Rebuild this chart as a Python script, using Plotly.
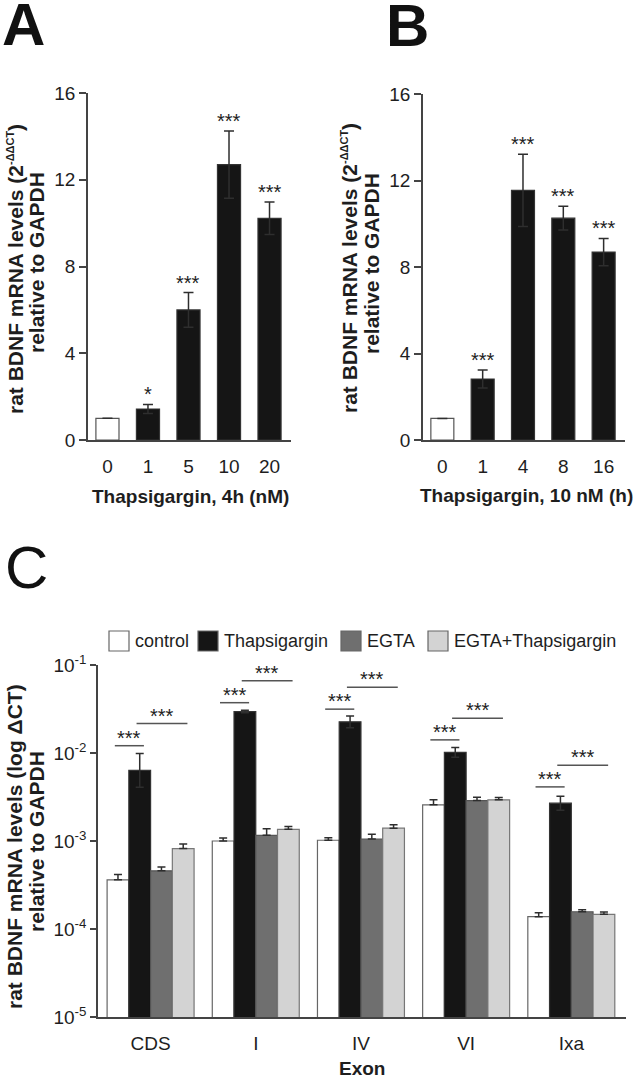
import numpy as np
import plotly.graph_objects as go

# ---------------- data ----------------
# Panel A: Thapsigargin dose, 4 h
a_doses = ['0', '1', '5', '10', '20']
a_means = [1.0, 1.43, 6.0, 12.7, 10.22]
a_sem = [0.0, 0.21, 0.8, 1.55, 0.75]
a_sig = ['', '*', '***', '***', '***']

# Panel B: Thapsigargin 10 nM, time course
b_hours = ['0', '1', '4', '8', '16']
b_means = [1.0, 2.82, 11.54, 10.26, 8.69]
b_sem = [0.0, 0.42, 1.67, 0.55, 0.63]
b_sig = ['', '***', '***', '***', '***']

# Panel C: exon-specific transcripts (log scale)
exons = ['CDS', 'I', 'IV', 'VI', 'Ixa']
c_groups = ['control', 'Thapsigargin', 'EGTA', 'EGTA+Thapsigargin']
c_control = [3.62e-4, 1.00e-3, 1.02e-3, 2.58e-3, 1.38e-4]
c_control_err = [0.55e-4, 0.08e-3, 0.07e-3, 0.36e-3, 0.15e-4]
c_thaps = [6.35e-3, 2.96e-2, 2.26e-2, 1.016e-2, 2.69e-3]
c_thaps_err = [3.55e-3, 0.10e-2, 0.38e-2, 0.14e-2, 0.54e-3]
c_egta = [4.58e-4, 1.16e-3, 1.054e-3, 2.88e-3, 1.57e-4]
c_egta_err = [0.50e-4, 0.22e-3, 0.14e-3, 0.27e-3, 0.09e-4]
c_egta_thaps = [8.2e-4, 1.356e-3, 1.40e-3, 2.94e-3, 1.47e-4]
c_egta_thaps_err = [1.05e-4, 0.11e-3, 0.13e-3, 0.18e-3, 0.09e-4]
# significance bracket heights (control vs Thaps, Thaps vs EGTA+Thaps)
c_sig_ctrl_thaps = [1.21e-2, 3.73e-2, 3.15e-2, 1.41e-2, 4.12e-3]
c_sig_thaps_egtathaps = [2.16e-2, 6.62e-2, 5.58e-2, 2.49e-2, 7.24e-3]
c_sig_label = '***'

# ---------------- style ----------------
W, H = 633, 1082
FONT = 'Liberation Sans, Arial, sans-serif'
TXT = '#1e1e1e'
AXC = '#444444'
BLACK = '#151515'
GROUP_COLORS = ['#ffffff', BLACK, '#6f6f6f', '#d3d3d3']
GROUP_LINES = ['#666666', '#333333', '#555555', '#777777']


def px(x):
    return x / W


def py(y):
    return 1 - y / H


fig = go.Figure()

# ---- Panel A ----
fig.add_trace(go.Bar(
    x=a_doses, y=a_means, xaxis='x', yaxis='y', width=0.57,
    marker=dict(color=['#ffffff'] + [BLACK] * (len(a_doses) - 1),
                line=dict(color=['#555555'] + ['#333333'] * (len(a_doses) - 1), width=1.2)),
    error_y=dict(type='data', array=a_sem, visible=True, color='#2e2e2e', thickness=1.5, width=5),
    showlegend=False))

# ---- Panel B ----
fig.add_trace(go.Bar(
    x=b_hours, y=b_means, xaxis='x2', yaxis='y2', width=0.57,
    marker=dict(color=['#ffffff'] + [BLACK] * (len(b_hours) - 1),
                line=dict(color=['#555555'] + ['#333333'] * (len(b_hours) - 1), width=1.2)),
    error_y=dict(type='data', array=b_sem, visible=True, color='#2e2e2e', thickness=1.5, width=5),
    showlegend=False))

# ---- Panel C ----
c_vals = [c_control, c_thaps, c_egta, c_egta_thaps]
c_errs = [c_control_err, c_thaps_err, c_egta_err, c_egta_thaps_err]
for gi, (name, vals, errs) in enumerate(zip(c_groups, c_vals, c_errs)):
    v = np.array(vals)
    e = np.array(errs)
    if gi == 1:
        minus = v - v * v / (v + e)
    else:
        minus = np.zeros_like(v)
    fig.add_trace(go.Bar(
        x=exons, y=vals, name=name, xaxis='x3', yaxis='y3',
        marker=dict(color=GROUP_COLORS[gi], line=dict(color=GROUP_LINES[gi], width=1.2)),
        error_y=dict(type='data', symmetric=False, array=errs, arrayminus=list(minus),
                     visible=True, color='#2e2e2e', thickness=1.5, width=4),
        showlegend=False))

annotations = []
shapes = []

STARFONT = dict(family=FONT, size=20, color=TXT)
# stars A/B (x as category index)
for xref, yref, means, sems, sigs in [
        ('x', 'y', a_means, a_sem, a_sig),
        ('x2', 'y2', b_means, b_sem, b_sig)]:
    for i, (m, s, g) in enumerate(zip(means, sems, sigs)):
        if g:
            annotations.append(dict(x=i, y=m + s, xref=xref, yref=yref, text=g,
                                    showarrow=False, yanchor='bottom', yshift=-3,
                                    font=STARFONT))

# brackets C
n_groups = len(c_groups)
group_w = 1 - 0.173
bar_w = group_w / n_groups
offsets = [-group_w / 2 + bar_w * (k + 0.5) for k in range(n_groups)]
for i, ex in enumerate(exons):
    for (ga, gb, h) in [(0, 1, c_sig_ctrl_thaps[i]), (1, 3, c_sig_thaps_egtathaps[i])]:
        x0 = i + offsets[ga] - 0.03
        x1 = i + offsets[gb] + 0.04
        shapes.append(dict(type='line', xref='x3', yref='y3', x0=x0, x1=x1, y0=h, y1=h,
                           line=dict(color='#555555', width=1.5)))
        annotations.append(dict(x=(x0 + x1) / 2, y=np.log10(h), xref='x3', yref='y3',
                                text=c_sig_label, showarrow=False, yanchor='bottom',
                                yshift=-5, font=STARFONT))

# manual legend for C
leg_box_x = [109, 198, 341, 428]
leg_y0, leg_y1 = 631, 651
for gi, name in enumerate(c_groups):
    shapes.append(dict(type='rect', xref='paper', yref='paper',
                       x0=px(leg_box_x[gi]), x1=px(leg_box_x[gi] + 20),
                       y0=py(leg_y1), y1=py(leg_y0),
                       fillcolor=GROUP_COLORS[gi], line=dict(color='#666666', width=1.2)))
    annotations.append(dict(x=px(leg_box_x[gi] + 24), y=py((leg_y0 + leg_y1) / 2),
                            xref='paper', yref='paper', text=name, showarrow=False,
                            xanchor='left', yanchor='middle',
                            font=dict(family=FONT, size=18, color=TXT)))

# axis titles
XT_FONT = dict(family=FONT, size=19, color=TXT)
YT_FONT = dict(family=FONT, size=21, color=TXT)
sup = '<sup><span style="font-size:11px">-ΔΔCT</span></sup>'
ytitle_ab_1 = '<b>rat BDNF mRNA levels (2' + sup + ')</b>'
ytitle_2 = '<b>relative to GAPDH</b>'
ytitle_c_1 = '<b>rat BDNF mRNA levels (log ΔCT)</b>'


def ytitle(x, y, text):
    return dict(x=px(x), y=py(y), xref='paper', yref='paper', text=text, textangle=-90,
                showarrow=False, xanchor='center', yanchor='middle', font=YT_FONT)


def xtitle(x, y, text):
    return dict(x=px(x), y=py(y), xref='paper', yref='paper', text=text,
                showarrow=False, xanchor='center', yanchor='middle', font=XT_FONT)


annotations += [
    ytitle(15, 269, ytitle_ab_1), ytitle(37, 263, ytitle_2),
    ytitle(349, 268, ytitle_ab_1), ytitle(371, 264, ytitle_2),
    ytitle(14, 847, ytitle_c_1), ytitle(36, 842, ytitle_2),
    xtitle(190, 497, '<b>Thapsigargin, 4h (nM)</b>'),
    xtitle(526, 495, '<b>Thapsigargin, 10 nM (h)</b>'),
    xtitle(362, 1068, '<b>Exon</b>'),
]

# panel letters
for letter, lx, ly, bold in [('A', 0, 25, True), ('B', 384, 26, True), ('C', 3, 567, False)]:
    annotations.append(dict(x=px(lx), y=py(ly), xref='paper', yref='paper',
                            text=('<b>%s</b>' % letter) if bold else letter,
                            showarrow=False, xanchor='left', yanchor='middle',
                            font=dict(family=FONT, size=60, color='#111111')))

TICKFONT = dict(family=FONT, size=19, color=TXT)
common_x = dict(type='category', showline=True, linecolor=AXC, linewidth=1.5, ticks='',
                showgrid=False, zeroline=False, tickfont=TICKFONT, ticklabelstandoff=8,
                automargin=False, fixedrange=True)
common_y = dict(showline=True, linecolor=AXC, linewidth=1.5, ticks='outside', ticklen=7,
                tickwidth=1.5, tickcolor=AXC, showgrid=False, zeroline=False,
                tickfont=TICKFONT, automargin=False, fixedrange=True)

c_tickvals = [1e-5, 1e-4, 1e-3, 1e-2, 1e-1]
c_ticktext = ['10<sup>-5</sup>', '10<sup>-4</sup>', '10<sup>-3</sup>', '10<sup>-2</sup>', '10<sup>-1</sup>']

fig.update_layout(
    width=W, height=H, autosize=False,
    margin=dict(l=0, r=0, t=0, b=0, pad=0),
    paper_bgcolor='white', plot_bgcolor='white',
    template='none',
    barmode='group', bargap=0.173, bargroupgap=0,
    showlegend=False,
    xaxis=dict(common_x, domain=[px(88), px(291)], range=[-0.48, 4.53], anchor='y'),
    yaxis=dict(common_y, domain=[py(440), py(93)], range=[0, 16], tickvals=[0, 4, 8, 12, 16], anchor='x'),
    xaxis2=dict(common_x, domain=[px(423), px(625)], range=[-0.48, 4.53], anchor='y2'),
    yaxis2=dict(common_y, domain=[py(440), py(94)], range=[0, 16], tickvals=[0, 4, 8, 12, 16], anchor='x2'),
    xaxis3=dict(common_x, domain=[px(98), px(626)], range=[-0.5, 4.52], anchor='y3'),
    yaxis3=dict(common_y, type='log', domain=[py(1017), py(665)], range=[-5, -1],
                tickvals=c_tickvals, ticktext=c_ticktext, ticklen=6, anchor='x3'),
    annotations=annotations,
    shapes=shapes,
)

fig.write_html('out.html', config={'displayModeBar': False},
               post_script="document.body.style.margin='0px';document.body.style.overflow='hidden';")
